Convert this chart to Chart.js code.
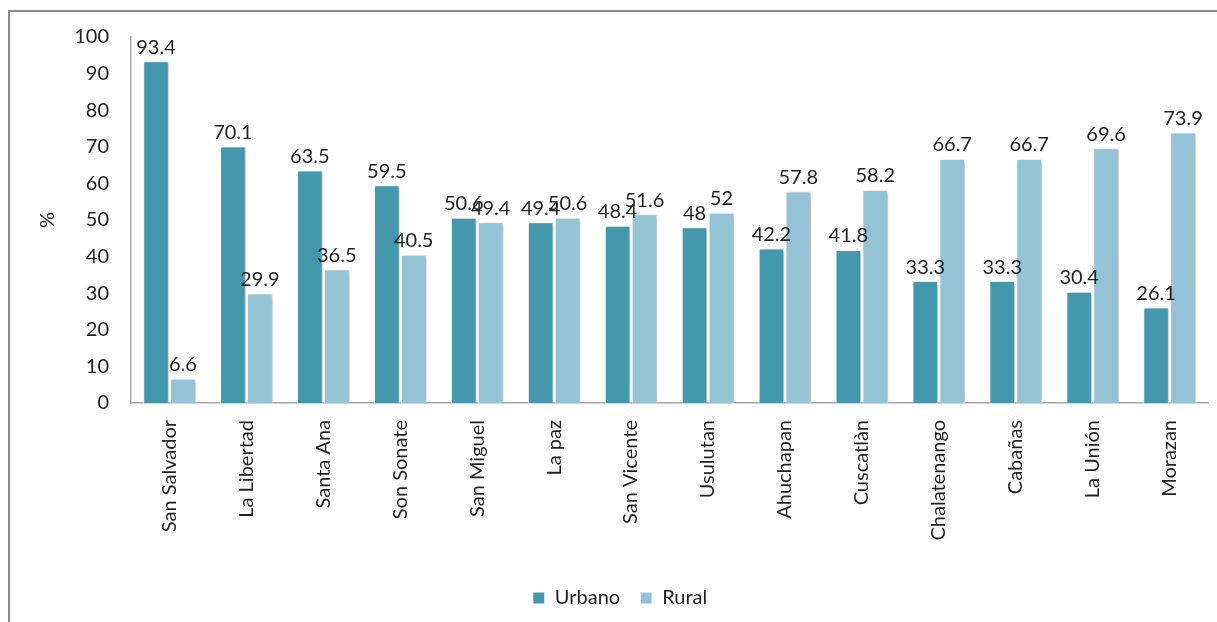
<!DOCTYPE html>
<html>
<head>
<meta charset="utf-8">
<script src="https://cdn.jsdelivr.net/npm/chart.js@4.4.1/dist/chart.umd.min.js"></script>
<style>
    html, body { margin: 0; padding: 0; background: #fff; }
    #wrap { position: absolute; left: 0; top: 0; width: 1217px; height: 622px; }
    #frame { position: absolute; left: 8px; top: 10px; width: 1220px; height: 620px;
             border-left: 2px solid #8c8c8c; border-top: 2px solid #8c8c8c; pointer-events: none; }
</style>
</head>
<body>
<div id="wrap"><canvas id="chart" width="1217" height="622"></canvas></div>
<div id="frame"></div>
<script>
// Chart data
const departamentos = ['San Salvador', 'La Libertad', 'Santa Ana', 'Son Sonate', 'San Miguel', 'La paz',
    'San Vicente', 'Usulutan', 'Ahuchapan', 'Cuscatlàn', 'Chalatenango', 'Cabañas', 'La Unión', 'Morazan'];
const urbano = [93.4, 70.1, 63.5, 59.5, 50.6, 49.4, 48.4, 48, 42.2, 41.8, 33.3, 33.3, 30.4, 26.1];
const rural = [6.6, 29.9, 36.5, 40.5, 49.4, 50.6, 51.6, 52, 57.8, 58.2, 66.7, 66.7, 69.6, 73.9];
const yTicks = [0, 10, 20, 30, 40, 50, 60, 70, 80, 90, 100];

const FONT = 'Lato, "Open Sans", sans-serif';
const FONT_SIZE = 20;
const TEXT = '#1f1f1f';

// soft shadow behind the bars, like the Excel original
const barShadow = {
    id: 'barShadow',
    beforeDatasetsDraw(chart) {
        const ctx = chart.ctx;
        ctx.save();
        ctx.shadowColor = 'rgba(0, 0, 0, 0.28)';
        ctx.shadowBlur = 4;
        ctx.shadowOffsetX = 2;
        ctx.shadowOffsetY = 1;
    },
    afterDatasetsDraw(chart) {
        chart.ctx.restore();
    }
};

// value labels above each bar
const valueLabels = {
    id: 'valueLabels',
    afterDraw(chart) {
        const ctx = chart.ctx;
        ctx.save();
        ctx.font = FONT_SIZE + 'px ' + FONT;
        ctx.fillStyle = TEXT;
        ctx.textAlign = 'center';
        ctx.textBaseline = 'bottom';
        chart.data.datasets.forEach((ds, i) => {
            chart.getDatasetMeta(i).data.forEach((bar, j) => {
                ctx.fillText(String(ds.data[j]), bar.x, bar.y - 4);
            });
        });
        ctx.restore();
    }
};

new Chart(document.getElementById('chart'), {
    type: 'bar',
    data: {
        labels: departamentos,
        datasets: [{
            label: 'Urbano',
            data: urbano,
            backgroundColor: '#4398ae',
            borderColor: '#ffffff',
            borderWidth: 1,
            categoryPercentage: 0.7,
            barPercentage: 0.95
        }, {
            label: 'Rural',
            data: rural,
            backgroundColor: '#93c3d4',
            borderColor: '#ffffff',
            borderWidth: 1,
            categoryPercentage: 0.7,
            barPercentage: 0.95
        }]
    },
    options: {
        responsive: false,
        animation: false,
        layout: { padding: { top: 37, right: 9, left: 32, bottom: 4 } },
        plugins: {
            tooltip: { enabled: false },
            legend: {
                position: 'bottom',
                labels: {
                    boxWidth: 12,
                    boxHeight: 12,
                    padding: 20,
                    color: TEXT,
                    font: { family: FONT, size: FONT_SIZE }
                }
            }
        },
        scales: {
            x: {
                grid: { display: false, drawTicks: false },
                border: { color: '#a6a6a6', width: 1.5 },
                ticks: {
                    minRotation: 90,
                    maxRotation: 90,
                    padding: 17,
                    color: TEXT,
                    font: { family: FONT, size: FONT_SIZE }
                },
                afterFit(scale) { scale.height = 165; }
            },
            y: {
                min: 0,
                max: 100,
                afterBuildTicks(scale) { scale.ticks = yTicks.map(v => ({ value: v })); },
                grid: { display: false, drawTicks: false },
                border: { color: '#a6a6a6', width: 1.5 },
                title: {
                    display: true,
                    text: '%',
                    color: TEXT,
                    font: { family: FONT, size: FONT_SIZE },
                    padding: { top: 4 }
                },
                ticks: {
                    padding: 22,
                    color: TEXT,
                    font: { family: FONT, size: FONT_SIZE }
                },
                afterFit(scale) { scale.width = 99; }
            }
        }
    },
    plugins: [barShadow, valueLabels]
});
</script>
</body>
</html>
